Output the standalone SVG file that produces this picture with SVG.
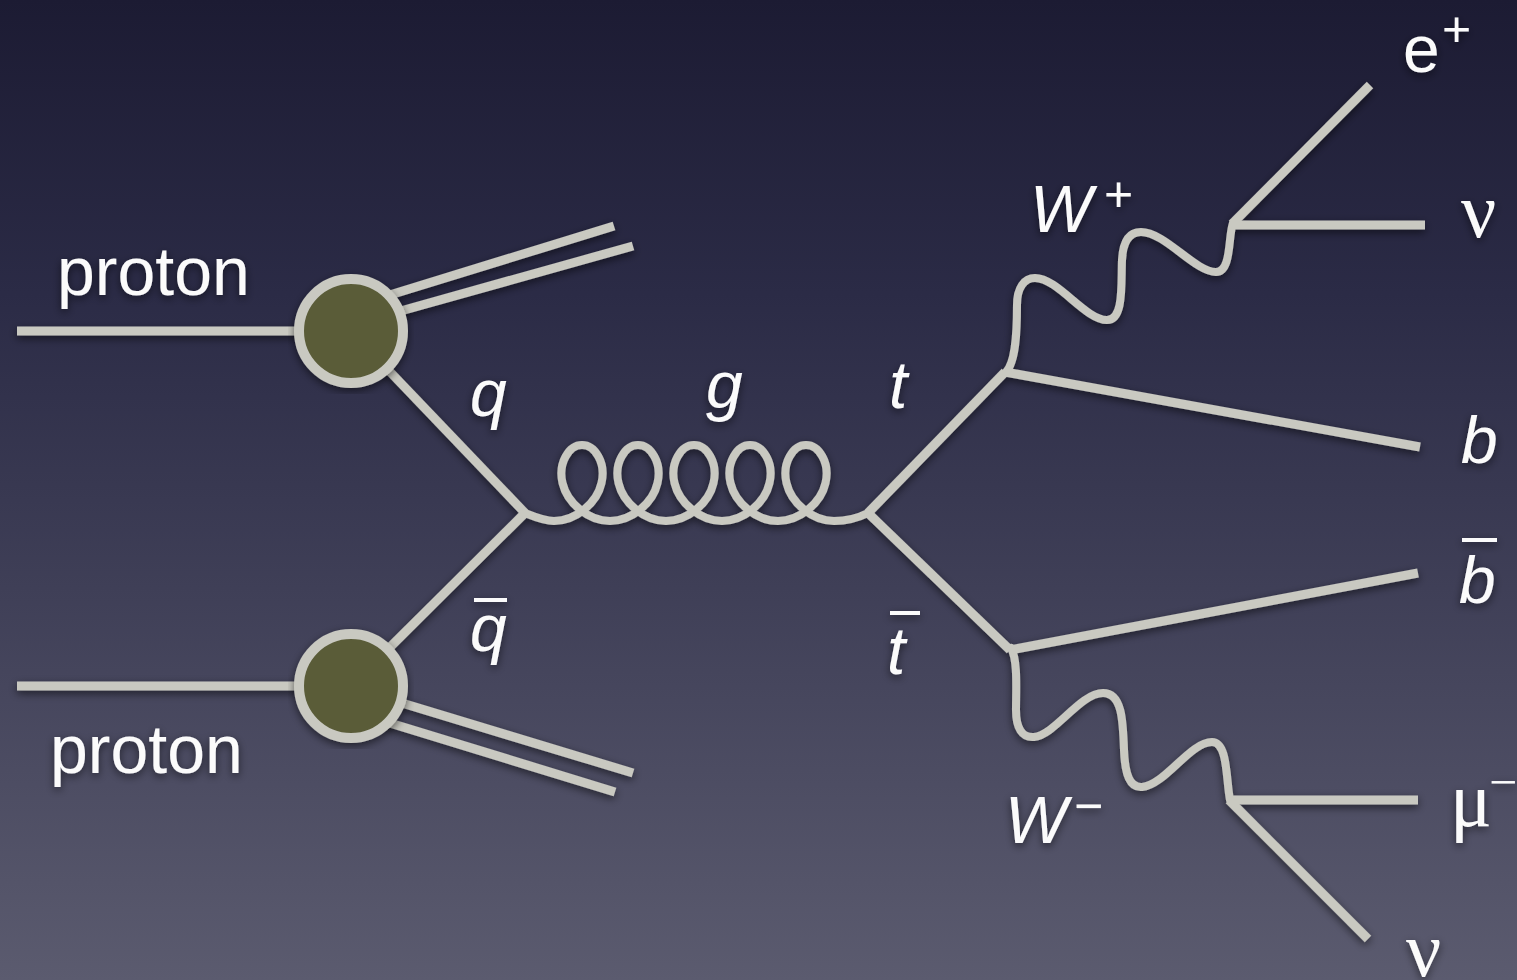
<svg xmlns="http://www.w3.org/2000/svg" width="1517" height="980" viewBox="0 0 1517 980">
  <defs>
    <linearGradient id="bg" x1="0" y1="0" x2="0" y2="1">
      <stop offset="0" stop-color="#1c1b33"/>
      <stop offset="0.3" stop-color="#2b2b46"/>
      <stop offset="0.6" stop-color="#3f3f57"/>
      <stop offset="1" stop-color="#5b5b6f"/>
    </linearGradient>
    <filter id="sh" x="-10%" y="-10%" width="120%" height="120%">
      <feDropShadow dx="0" dy="3" stdDeviation="4" flood-color="#000" flood-opacity="0.55"/>
    </filter>
  </defs>
  <style>
    .ln { stroke: #c9c9c1; stroke-width: 9; fill: none; stroke-linecap: butt; stroke-linejoin: round; }
    .wv { stroke: #c9c9c1; stroke-width: 8; fill: none; stroke-linecap: round; stroke-linejoin: round; }
    .blob { fill: #5a5c39; stroke: #c9c9c1; stroke-width: 10; }
    .lbl { font-family: "Liberation Sans", Arial, sans-serif; fill: #fbfbfb; font-size: 66px; }
    .pr { font-size: 68px; }
    .it { font-style: italic; }
    .gr { font-family: "Liberation Serif", "Times New Roman", serif; fill: #fbfbfb; font-size: 78px; }
    .bar { stroke: #fbfbfb; stroke-width: 4; }
  </style>
  <rect width="1517" height="980" fill="url(#bg)"/>

  <g id="connectors" filter="url(#sh)">
    <line class="ln" x1="17" y1="331" x2="351" y2="331"/>
    <line class="ln" x1="17" y1="686" x2="351" y2="686"/>
    <line class="ln" x1="380" y1="298" x2="614" y2="226"/>
    <line class="ln" x1="390" y1="314" x2="633" y2="246"/>
    <line class="ln" x1="392" y1="700" x2="633" y2="773"/>
    <line class="ln" x1="380" y1="720" x2="615" y2="792"/>
    <line class="ln" x1="351" y1="331" x2="525" y2="513"/>
    <line class="ln" x1="351" y1="686" x2="525" y2="513"/>
    <path class="wv" d="M525,513 C535,517 544,521 554,521 c22,0 43,-18.1 47.5,-38 c4.7,-19.9 -6.4,-38 -19.5,-38 c-13,0 -24.2,18.1 -19.5,38 c4.7,19.9 25.5,38 47.5,38 c22,0 43,-18.1 47.5,-38 c4.7,-19.9 -6.4,-38 -19.5,-38 c-13,0 -24.2,18.1 -19.5,38 c4.7,19.9 25.5,38 47.5,38 c22,0 43,-18.1 47.5,-38 c4.7,-19.9 -6.4,-38 -19.5,-38 c-13,0 -24.2,18.1 -19.5,38 c4.7,19.9 25.5,38 47.5,38 c22,0 43,-18.1 47.5,-38 c4.7,-19.9 -6.4,-38 -19.5,-38 c-13,0 -24.2,18.1 -19.5,38 c4.7,19.9 25.5,38 47.5,38 c22,0 43,-18.1 47.5,-38 c4.7,-19.9 -6.4,-38 -19.5,-38 c-13,0 -24.2,18.1 -19.5,38 c4.7,19.9 25.5,38 47.5,38 C846,521 858,518 868,513"/>
    <line class="ln" x1="868" y1="513" x2="1005" y2="372"/>
    <line class="ln" x1="868" y1="513" x2="1010" y2="650"/>
    <line class="ln" x1="1005" y1="372" x2="1420" y2="447"/>
    <line class="ln" x1="1010" y1="650" x2="1418" y2="573"/>
    <path class="wv" d="M1006,372 C1016,362 1017,330 1017,305 C1017,288 1024,278 1035,278 C1058,278 1085,320 1107,320 C1124,320 1121,285 1122,260 C1123,240 1130,232 1141,232 C1165,232 1195,272 1216,272 C1232,272 1228,235 1233,223"/>
    <path class="wv" d="M1011,648 C1018,660 1016,690 1016,710 C1016,728 1022,738 1034,737 C1055,735 1080,693 1103,693 C1122,693 1123,720 1124,750 C1125,775 1130,788 1142,787 C1165,785 1190,742 1212,742 C1228,742 1226,780 1230,800"/>
    <line class="ln" x1="1232" y1="224" x2="1370" y2="85"/>
    <line class="ln" x1="1232" y1="225" x2="1425" y2="225"/>
    <line class="ln" x1="1229" y1="800" x2="1418" y2="800"/>
    <line class="ln" x1="1229" y1="800" x2="1368" y2="939"/>
  </g>

  <g id="proton1-blob" filter="url(#sh)"><circle class="blob" cx="351" cy="331" r="52"/></g>
  <g id="proton2-blob" filter="url(#sh)"><circle class="blob" cx="351" cy="686" r="52"/></g>

  <g filter="url(#sh)">
    <g id="label-proton1"><text class="lbl pr" x="57" y="295">proton</text></g>
    <g id="label-proton2"><text class="lbl pr" x="50" y="773">proton</text></g>
    <g id="label-q"><text class="lbl it" x="470" y="416">q</text></g>
    <g id="label-qbar"><line class="bar" x1="474" y1="600" x2="507" y2="600"/><text class="lbl it" x="470" y="651">q</text></g>
    <g id="label-g"><text class="lbl it" x="706" y="408">g</text></g>
    <g id="label-t"><text class="lbl it" x="889" y="408">t</text></g>
    <g id="label-tbar"><line class="bar" x1="890" y1="613" x2="920" y2="613"/><text class="lbl it" x="887" y="674">t</text></g>
    <g id="label-Wplus"><text class="lbl it" x="1030" y="232">W<tspan font-style="normal" font-size="50" x="1104" y="211">+</tspan></text></g>
    <g id="label-Wminus"><text class="lbl it" x="1005" y="843">W<tspan font-style="normal" font-size="50" x="1074" y="823">−</tspan></text></g>
    <g id="label-eplus"><text class="lbl" x="1403" y="72">e<tspan font-size="50" x="1442" y="46">+</tspan></text></g>
    <g id="label-nu1"><text class="gr" x="1461" y="237">ν</text></g>
    <g id="label-b"><text class="lbl it" x="1461" y="463">b</text></g>
    <g id="label-bbar"><line class="bar" x1="1462" y1="540" x2="1497" y2="540"/><text class="lbl it" x="1459" y="603">b</text></g>
    <g id="label-mu"><text class="gr" x="1450" y="826">μ<tspan font-size="50" x="1489" y="799">−</tspan></text></g>
    <g id="label-nu2"><text class="gr" x="1406" y="976">ν</text></g>
  </g>
</svg>
